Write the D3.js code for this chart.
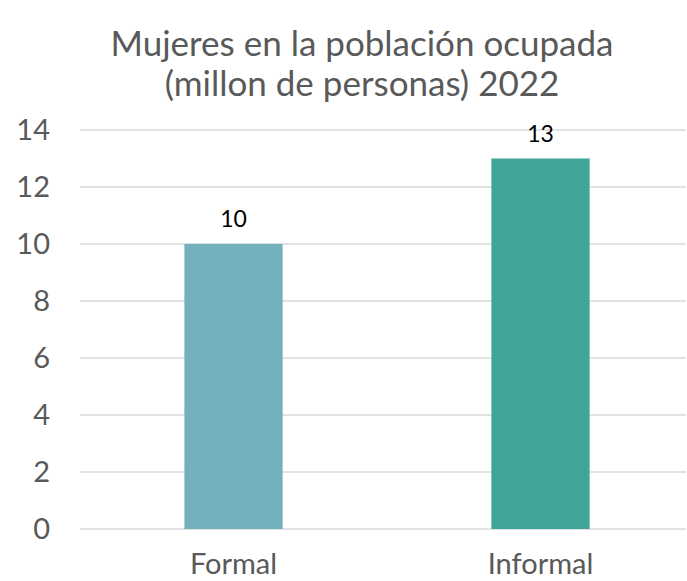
<!DOCTYPE html>
<html>
<head>
<meta charset="utf-8">
<script src="https://d3js.org/d3.v7.min.js"></script>
<style>
body { margin: 0; background: #fff; }
text { font-family: "Lato", "Open Sans", sans-serif; }
</style>
</head>
<body>
<svg id="canvas" width="687" height="581"></svg>
<script>
// chart data
var categories = ["Formal", "Informal"];
var values = [10, 13];
var yTicks = [0, 2, 4, 6, 8, 10, 12, 14];
var titleLines = ["Mujeres en la población ocupada", "(millon de personas) 2022"];
var colors = ["#72b1bc", "#40a497"];

var svg = d3.select("#canvas");
var plotLeft = 80, plotRight = 686, plotTop = 130, plotBottom = 529;

var x = d3.scaleBand()
    .domain(categories)
    .range([plotLeft, plotLeft + 614])
    .paddingInner(0.68)
    .paddingOuter(0.34);

var y = d3.scaleLinear()
    .domain([0, 14])
    .range([plotBottom, plotTop]);

// gridlines
svg.append("g").selectAll("line").data(yTicks).enter()
    .append("line")
    .attr("x1", plotLeft).attr("x2", plotRight)
    .attr("y1", function(d) { return y(d); })
    .attr("y2", function(d) { return y(d); })
    .attr("stroke", "#d9d9d9")
    .attr("stroke-width", 1.5);

// y tick labels
svg.append("g").selectAll("text").data(yTicks).enter()
    .append("text")
    .attr("x", 50)
    .attr("y", function(d) { return y(d); })
    .attr("dy", "0.35em")
    .attr("text-anchor", "end")
    .attr("fill", "#595959")
    .style("font-size", "29px")
    .text(function(d) { return d; });

// bars
svg.append("g").selectAll("rect").data(values).enter()
    .append("rect")
    .attr("x", function(d, i) { return x(categories[i]); })
    .attr("width", x.bandwidth())
    .attr("y", function(d) { return y(d); })
    .attr("height", function(d) { return y(0) - y(d); })
    .attr("fill", function(d, i) { return colors[i]; });

// data labels
svg.append("g").selectAll("text").data(values).enter()
    .append("text")
    .attr("x", function(d, i) { return x(categories[i]) + x.bandwidth() / 2; })
    .attr("y", function(d) { return y(d) - 17; })
    .attr("text-anchor", "middle")
    .attr("fill", "#000")
    .style("font-size", "23px")
    .text(function(d) { return d; });

// category labels
svg.append("g").selectAll("text").data(categories).enter()
    .append("text")
    .attr("x", function(d) { return x(d) + x.bandwidth() / 2; })
    .attr("y", 574)
    .attr("text-anchor", "middle")
    .attr("fill", "#595959")
    .style("font-size", "29px")
    .text(function(d) { return d; });

// title
svg.append("g").selectAll("text").data(titleLines).enter()
    .append("text")
    .attr("x", 362)
    .attr("y", function(d, i) { return 56 + i * 40; })
    .attr("text-anchor", "middle")
    .attr("fill", "#595959")
    .style("font-size", "35px")
    .text(function(d) { return d; });
</script>
</body>
</html>
